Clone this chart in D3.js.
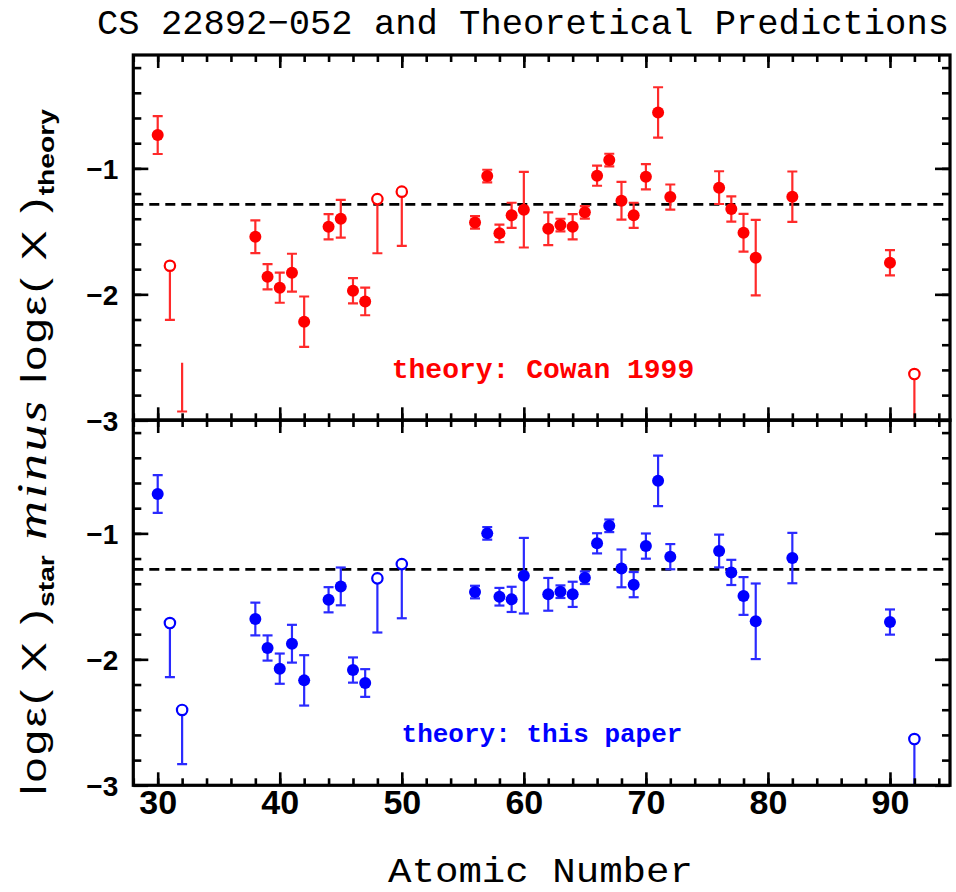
<!DOCTYPE html>
<html>
<head>
<meta charset="utf-8">
<script src="https://cdn.jsdelivr.net/npm/d3@7"></script>
<style>
  html, body { margin: 0; padding: 0; background: #fff; }
  svg { display: block; }
</style>
</head>
<body>
<svg id="chart" width="956" height="892"></svg>
<script>
// ---- Data ----
const atomicNumber = [30,31,32,38,39,40,41,42,44,45,46,47,48,50,56,57,58,59,60,62,63,64,65,66,67,68,69,70,71,72,76,77,78,79,82,90,92];

// marker: "filled" = detection, "open" = upper limit (bar downwards), "none" = bar only
const cowanMarker = ["filled","open","none","filled","filled","filled","filled","filled","filled","filled","filled","filled","open","open",
  "filled","filled","filled","filled","filled","filled","filled","filled","filled","filled","filled","filled","filled","filled","filled","filled",
  "filled","filled","filled","filled","filled","filled","open"];
const thisPaperMarker = ["filled","open","open","filled","filled","filled","filled","filled","filled","filled","filled","filled","open","open",
  "filled","filled","filled","filled","filled","filled","filled","filled","filled","filled","filled","filled","filled","filled","filled","filled",
  "filled","filled","filled","filled","filled","filled","open"];

const cowanValue = [-0.736,-1.773,-2.50,-1.543,-1.86,-1.947,-1.828,-2.217,-1.463,-1.40,-1.971,-2.056,-1.244,-1.185,
  -1.429,-1.061,-1.516,-1.373,-1.328,-1.479,-1.45,-1.463,-1.349,-1.058,-0.934,-1.257,-1.373,-1.066,-0.556,-1.228,
  -1.153,-1.323,-1.511,-1.709,-1.225,-1.749,-2.633];
const thisPaperValue = [-0.688,-1.712,-2.402,-1.68,-1.91,-2.074,-1.876,-2.167,-1.527,-1.421,-2.085,-2.188,-1.357,-1.244,
  -1.466,-1.0,-1.503,-1.524,-1.336,-1.484,-1.463,-1.484,-1.352,-1.079,-0.94,-1.278,-1.407,-1.101,-0.583,-1.185,
  -1.14,-1.31,-1.497,-1.698,-1.196,-1.704,-2.633];
// symmetric error for detections; downward bar length for limits
const errorSize = [0.15,0.43,0.43,0.13,0.10,0.12,0.15,0.20,0.10,0.15,0.10,0.11,0.43,0.43,
  0.05,0.05,0.07,0.10,0.30,0.13,0.05,0.10,0.05,0.08,0.05,0.15,0.10,0.10,0.20,0.10,
  0.13,0.10,0.15,0.30,0.20,0.10,0.43];

const referenceLevel = -1.286;
const xDomain = [28, 95];
const yDomain = [-3, -0.1];
const xMajorTicks = [30,40,50,60,70,80,90];
const xMinorTicks = d3.range(28, 95, 2);
const yMajorTicks = [-3,-2,-1];
const yMinorTicks = d3.range(-2.8, -0.1, 0.2).map(v => +v.toFixed(1));

const panels = [
  { name: "cowan", values: cowanValue, markers: cowanMarker, color: "#ff0000", barColor: "#ff2a2a",
    label: "theory: Cowan 1999", top: 55, bottom: 420.3, labelX: 543, labelY: 378, labelSize: 28 },
  { name: "paper", values: thisPaperValue, markers: thisPaperMarker, color: "#0000ff", barColor: "#2a2aff",
    label: "theory: this paper", top: 420, bottom: 785.3, labelX: 542, labelY: 742, labelSize: 26 }
];

// ---- Drawing ----
const svg = d3.select("#chart");
const left = 133.3, right = 950;
const x = d3.scaleLinear().domain(xDomain).range([left, right + 1]);

svg.append("text")
  .attr("x", 97).attr("y", 34)
  .attr("textLength", 852).attr("lengthAdjust", "spacingAndGlyphs")
  .style("font-family", "'Liberation Mono', 'DejaVu Sans Mono', monospace")
  .style("font-size", "35px")
  .text("CS 22892\u2212052 and Theoretical Predictions");

panels.forEach((p, pi) => {
  const y = d3.scaleLinear().domain(yDomain).range([p.bottom, p.top]);
  const g = svg.append("g");
  const clipId = "clip-" + p.name;
  svg.append("clipPath").attr("id", clipId).append("rect")
    .attr("x", left).attr("y", p.top).attr("width", right - left).attr("height", p.bottom - p.top);

  // dashed reference line
  g.append("line")
    .attr("x1", left).attr("x2", right)
    .attr("y1", y(referenceLevel)).attr("y2", y(referenceLevel))
    .attr("stroke", "#000").attr("stroke-width", 2.6).attr("stroke-dasharray", "10,6");

  const pts = atomicNumber.map((z, i) => ({ z, v: p.values[i], m: p.markers[i], e: errorSize[i] }));
  const data = g.append("g").attr("clip-path", `url(#${clipId})`);

  // error bars
  pts.forEach(d => {
    const cx = x(d.z);
    const gb = data.append("g").attr("stroke", p.barColor).attr("stroke-width", 2.2).attr("fill", "none");
    if (d.m === "filled") {
      const y1 = y(d.v + d.e), y2 = y(d.v - d.e);
      gb.append("line").attr("x1", cx).attr("x2", cx).attr("y1", y1).attr("y2", y2);
      gb.append("line").attr("x1", cx - 5).attr("x2", cx + 5).attr("y1", y1).attr("y2", y1);
      gb.append("line").attr("x1", cx - 5).attr("x2", cx + 5).attr("y1", y2).attr("y2", y2);
    } else {
      const y0 = y(d.v) + 5.5, y2 = y(d.v - d.e);
      gb.append("line").attr("x1", cx).attr("x2", cx).attr("y1", y0).attr("y2", y2);
      gb.append("line").attr("x1", cx - 5).attr("x2", cx + 5).attr("y1", y2).attr("y2", y2);
    }
  });
  // markers
  data.selectAll("circle.filled").data(pts.filter(d => d.m === "filled")).join("circle")
    .attr("class", "filled").attr("cx", d => x(d.z)).attr("cy", d => y(d.v)).attr("r", 6)
    .attr("fill", p.color);
  data.selectAll("circle.open").data(pts.filter(d => d.m === "open")).join("circle")
    .attr("class", "open").attr("cx", d => x(d.z)).attr("cy", d => y(d.v)).attr("r", 5.2)
    .attr("fill", "#fff").attr("stroke", p.color).attr("stroke-width", 2.2);

  // theory label
  g.append("text").attr("x", p.labelX).attr("y", p.labelY).attr("text-anchor", "middle")
    .attr("fill", p.color)
    .style("font-family", "'Liberation Mono', 'DejaVu Sans Mono', monospace")
    .style("font-size", p.labelSize + "px").style("font-weight", "bold")
    .text(p.label);

  // axes: ticks inward on all sides
  const tickStyle = sel => { sel.select(".domain").remove(); sel.selectAll(".tick line").attr("stroke", "#000").attr("stroke-width", 2.6); };
  g.append("g").attr("transform", `translate(${left},0)`)
    .call(d3.axisLeft(y).tickValues(yMinorTicks).tickSize(-8).tickFormat("")).call(tickStyle);
  g.append("g").attr("transform", `translate(${right},0)`)
    .call(d3.axisRight(y).tickValues(yMinorTicks).tickSize(-8).tickFormat("")).call(tickStyle);
  g.append("g").attr("transform", `translate(${right},0)`)
    .call(d3.axisRight(y).tickValues(yMajorTicks).tickSize(-15).tickFormat("")).call(tickStyle);
  const yl = g.append("g").attr("transform", `translate(${left},0)`)
    .call(d3.axisLeft(y).tickValues(yMajorTicks).tickSize(-15).tickPadding(15)
      .tickFormat(d => "\u2212" + Math.abs(d)))
    .call(tickStyle);
  yl.selectAll(".tick text")
    .style("font-family", "'Liberation Sans', Arial, sans-serif").style("font-weight", "bold")
    .style("font-size", "28px").attr("fill", "#000").attr("dy", "0.36em");

  g.append("g").attr("transform", `translate(0,${p.bottom})`)
    .call(d3.axisBottom(x).tickValues(xMinorTicks).tickSize(-7).tickFormat("")).call(tickStyle);
  g.append("g").attr("transform", `translate(0,${p.top})`)
    .call(d3.axisTop(x).tickValues(xMinorTicks).tickSize(-7).tickFormat("")).call(tickStyle);
  g.append("g").attr("transform", `translate(0,${p.top})`)
    .call(d3.axisTop(x).tickValues(xMajorTicks).tickSize(-13).tickFormat("")).call(tickStyle);
  const xb = g.append("g").attr("transform", `translate(0,${p.bottom})`)
    .call(d3.axisBottom(x).tickValues(xMajorTicks).tickSize(-13).tickPadding(16)
      .tickFormat(pi === panels.length - 1 ? d3.format("d") : ""))
    .call(tickStyle);
  xb.selectAll(".tick text")
    .style("font-family", "'Liberation Sans', Arial, sans-serif")
    .style("font-weight", "bold").style("font-size", "34px").attr("fill", "#000")
    .attr("y", 29).attr("dy", "0");

  // frame
  g.append("rect").attr("x", left).attr("y", p.top).attr("width", right - left).attr("height", p.bottom - p.top)
    .attr("fill", "none").attr("stroke", "#000").attr("stroke-width", 3.2);
});

// x-axis title
svg.append("text")
  .attr("x", 388).attr("y", 882)
  .attr("textLength", 305).attr("lengthAdjust", "spacingAndGlyphs")
  .style("font-family", "'Liberation Mono', 'DejaVu Sans Mono', monospace")
  .style("font-size", "35px")
  .text("Atomic Number");

// y-axis title
const yt = svg.append("text")
  .attr("transform", "translate(46,452) rotate(-90)")
  .attr("text-anchor", "middle")
  .attr("textLength", 686).attr("lengthAdjust", "spacingAndGlyphs")
  .style("font-family", "'Liberation Sans', Arial, sans-serif")
  .style("letter-spacing", "2px")
  .style("font-size", "35px").attr("fill", "#000");
yt.append("tspan").text("log\u03b5( X )");
yt.append("tspan").attr("dy", 8).style("font-size", "22px").style("font-weight", "bold").style("letter-spacing", "0px").text("star");
yt.append("tspan").attr("dy", -8).text(" ");
yt.append("tspan").style("font-family", "'Liberation Serif', 'Times New Roman', serif")
  .style("font-style", "italic").style("font-size", "42px").text("minus");
yt.append("tspan").text(" log\u03b5( X )");
yt.append("tspan").attr("dy", 8).style("font-size", "22px").style("font-weight", "bold").style("letter-spacing", "0px").text("theory");
</script>
</body>
</html>
